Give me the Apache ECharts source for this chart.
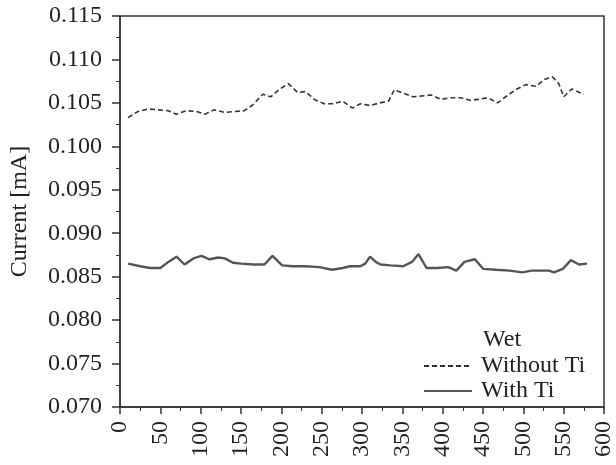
<!DOCTYPE html>
<html>
<head>
<meta charset="utf-8">
<script src="https://cdn.jsdelivr.net/npm/echarts@6/dist/echarts.min.js"></script>
<style>
  html, body { margin: 0; padding: 0; background: #fff; }
  #chart { width: 616px; height: 465px; }
</style>
</head>
<body>
<div id="chart"></div>
<script>
// 数据：时间 / 电流 (mA)
var withoutTi = [
    [10, 0.1033], [22, 0.1040], [35, 0.1043], [48, 0.1042], [60, 0.1041], [70, 0.1037],
    [82, 0.1041], [95, 0.1040], [105, 0.1037], [117, 0.1042], [130, 0.1039], [142, 0.1040],
    [154, 0.1041], [165, 0.1048], [177, 0.1060], [187, 0.1057], [198, 0.1066], [209, 0.1072],
    [220, 0.1062], [230, 0.1063], [241, 0.1054], [253, 0.1049], [265, 0.1049], [276, 0.1052],
    [288, 0.1044], [298, 0.1049], [310, 0.1047], [322, 0.1050], [333, 0.1052], [340, 0.1065],
    [352, 0.1061], [363, 0.1057], [374, 0.1058], [386, 0.1059], [398, 0.1054], [410, 0.1056],
    [422, 0.1056], [434, 0.1053], [444, 0.1054], [456, 0.1056], [468, 0.1050], [481, 0.1059],
    [492, 0.1066], [503, 0.1071], [516, 0.1069], [526, 0.1077], [536, 0.1080], [544, 0.1072],
    [550, 0.1057], [560, 0.1066], [575, 0.1060]
];
var withTi = [
    [10, 0.0865], [25, 0.0862], [37, 0.0860], [50, 0.0860], [60, 0.0867], [70, 0.0873],
    [80, 0.0864], [91, 0.0871], [101, 0.0874], [111, 0.0870], [122, 0.0872], [130, 0.0871],
    [140, 0.0866], [150, 0.0865], [165, 0.0864], [179, 0.0864], [189, 0.0874], [201, 0.0863],
    [214, 0.0862], [230, 0.0862], [247, 0.0861], [263, 0.0858], [276, 0.0860], [285, 0.0862],
    [298, 0.0862], [304, 0.0865], [310, 0.0873], [317, 0.0867], [323, 0.0864], [335, 0.0863],
    [351, 0.0862], [362, 0.0867], [370, 0.0876], [380, 0.0860], [393, 0.0860], [407, 0.0861],
    [417, 0.0857], [427, 0.0867], [440, 0.0870], [450, 0.0859], [466, 0.0858], [483, 0.0857],
    [499, 0.0855], [510, 0.0857], [524, 0.0857], [532, 0.0857], [538, 0.0855], [549, 0.0859],
    [559, 0.0869], [569, 0.0864], [579, 0.0865]
];
var seriesNames = ['Without Ti', 'With Ti'];
var legendTitle = 'Wet';
var yAxisName = 'Current [mA]';

var FONT = 'Liberation Serif';
var INK = '#333';

var chart = echarts.init(document.getElementById('chart'), null, { renderer: 'canvas' });

var option = {
    backgroundColor: '#fff',
    animation: false,
    grid: {
        left: 118, right: 11, top: 16, bottom: 58,
        show: true, borderColor: INK, borderWidth: 1.5
    },
    title: {
        text: legendTitle,
        left: 478, top: 323,
        textStyle: { fontFamily: FONT, fontSize: 24, fontWeight: 'normal', color: '#222' }
    },
    legend: {
        orient: 'vertical',
        left: 418, top: 349,
        itemWidth: 48, itemHeight: 10, itemGap: 1,
        data: seriesNames,
        itemStyle: { opacity: 0 },
        textStyle: { fontFamily: FONT, fontSize: 24, color: '#222', padding: [0, 0, 0, 4] }
    },
    xAxis: {
        type: 'value', min: 0, max: 600, interval: 50,
        axisLine: { lineStyle: { color: INK, width: 1.5 } },
        axisTick: { length: 7, lineStyle: { color: INK, width: 1.5 } },
        minorTick: { show: true, splitNumber: 2, length: 4, lineStyle: { color: INK } },
        splitLine: { show: false },
        axisLabel: { rotate: 90, margin: 14, fontFamily: FONT, fontSize: 24, color: '#222' }
    },
    yAxis: {
        type: 'value', min: 0.070, max: 0.115, interval: 0.005,
        name: yAxisName, nameLocation: 'middle', nameGap: 88,
        nameTextStyle: { fontFamily: FONT, fontSize: 24, color: '#222' },
        axisLine: { lineStyle: { color: INK, width: 1.5 } },
        axisTick: { length: 8, lineStyle: { color: INK, width: 1.5 } },
        minorTick: { show: true, splitNumber: 2, length: 4, lineStyle: { color: INK } },
        splitLine: { show: false },
        axisLabel: {
            margin: 18, fontFamily: FONT, fontSize: 24, color: '#222',
            formatter: function (v) { return v.toFixed(3); }
        }
    },
    series: [
        {
            name: seriesNames[0], type: 'line', data: withoutTi,
            symbol: 'none',
            lineStyle: { color: '#333', width: 1.6, type: [5, 3] },
            itemStyle: { color: '#333' }
        },
        {
            name: seriesNames[1], type: 'line', data: withTi,
            symbol: 'none',
            lineStyle: { color: '#555', width: 2.4 },
            itemStyle: { color: '#555' }
        }
    ]
};

chart.setOption(option);
</script>
</body>
</html>
